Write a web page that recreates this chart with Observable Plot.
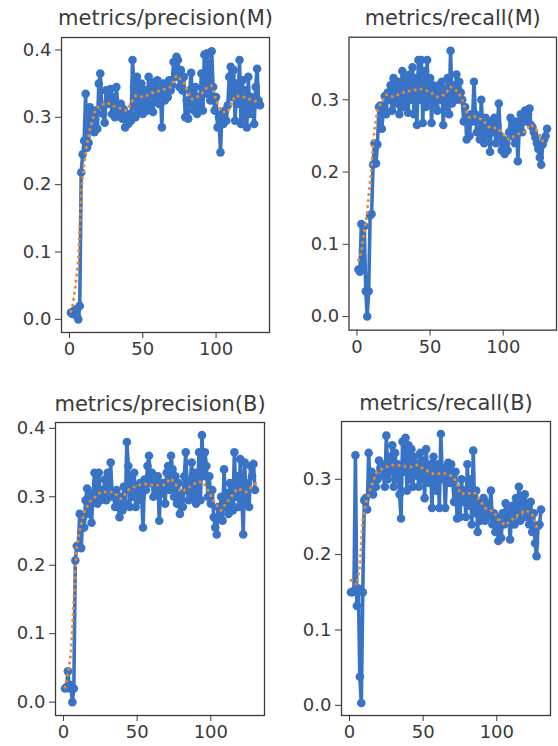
<!DOCTYPE html>
<html>
<head>
<meta charset="utf-8">
<script src="https://cdn.jsdelivr.net/npm/d3@7"></script>
<script src="https://cdn.jsdelivr.net/npm/@observablehq/plot@0.6"></script>
<style>
  html, body { margin: 0; padding: 0; background: #fff; overflow: hidden; }
  #wrap { position: relative; width: 558px; height: 746px; overflow: hidden; }
  #wrap > div { position: absolute; }
  svg { overflow: visible; }
</style>
</head>
<body>
<div id="wrap"></div>
<script>
// ---------- DATA ----------
const titles = ["metrics/precision(M)", "metrics/recall(M)", "metrics/precision(B)", "metrics/recall(B)"];
const xTicks = [0, 50, 100];
const yTicksPrec = [0, 0.1, 0.2, 0.3, 0.4];
const yTicksRec = [0, 0.1, 0.2, 0.3];

// raw series, epochs 1..130
const precisionM = [
  0.010,0.008,0.012,0.015,0.005,0.000,0.020,0.218,0.245,0.265,
  0.335,0.255,0.262,0.315,0.300,0.285,0.278,0.310,0.283,0.350,
  0.365,0.318,0.305,0.292,0.340,0.320,0.335,0.342,0.305,0.330,
  0.300,0.345,0.318,0.305,0.320,0.298,0.312,0.285,0.300,0.290,
  0.305,0.295,0.385,0.345,0.300,0.360,0.330,0.310,0.350,0.305,
  0.315,0.340,0.310,0.360,0.320,0.345,0.308,0.352,0.330,0.355,
  0.320,0.340,0.285,0.350,0.325,0.345,0.330,0.355,0.340,0.348,
  0.382,0.360,0.390,0.385,0.345,0.370,0.340,0.360,0.300,0.325,
  0.298,0.340,0.366,0.320,0.310,0.345,0.305,0.330,0.318,0.365,
  0.310,0.393,0.335,0.395,0.360,0.325,0.398,0.345,0.310,0.330,
  0.285,0.300,0.248,0.305,0.290,0.310,0.295,0.318,0.360,0.375,
  0.330,0.370,0.295,0.350,0.320,0.385,0.290,0.355,0.300,0.340,
  0.285,0.360,0.305,0.330,0.315,0.290,0.345,0.372,0.325,0.318
];
const recallM = [
  0.065,0.062,0.128,0.070,0.125,0.035,0.000,0.035,0.140,0.142,
  0.210,0.240,0.212,0.238,0.290,0.292,0.260,0.285,0.305,0.280,
  0.310,0.300,0.320,0.285,0.330,0.320,0.295,0.325,0.280,0.310,
  0.340,0.290,0.320,0.330,0.282,0.335,0.300,0.345,0.280,0.330,
  0.265,0.355,0.300,0.355,0.268,0.340,0.290,0.355,0.300,0.330,
  0.268,0.320,0.295,0.310,0.285,0.320,0.300,0.325,0.265,0.315,
  0.290,0.330,0.280,0.368,0.295,0.320,0.305,0.335,0.300,0.325,
  0.310,0.300,0.270,0.290,0.245,0.275,0.250,0.280,0.270,0.325,
  0.280,0.255,0.275,0.245,0.300,0.260,0.240,0.275,0.250,0.270,
  0.228,0.265,0.255,0.275,0.240,0.265,0.295,0.250,0.230,0.245,
  0.225,0.240,0.230,0.255,0.275,0.250,0.265,0.240,0.270,0.215,
  0.260,0.280,0.255,0.275,0.285,0.270,0.280,0.288,0.265,0.262,
  0.255,0.248,0.240,0.232,0.220,0.210,0.238,0.245,0.250,0.260
];
const precisionB = [
  0.020,0.022,0.045,0.020,0.025,0.000,0.020,0.207,0.228,0.228,
  0.275,0.225,0.268,0.255,0.295,0.312,0.275,0.305,0.262,0.300,
  0.335,0.320,0.290,0.335,0.295,0.310,0.300,0.325,0.295,0.335,
  0.310,0.350,0.300,0.305,0.285,0.310,0.290,0.270,0.300,0.280,
  0.315,0.290,0.380,0.345,0.285,0.330,0.300,0.335,0.285,0.310,
  0.295,0.320,0.300,0.255,0.325,0.310,0.345,0.360,0.320,0.335,
  0.300,0.320,0.310,0.330,0.265,0.320,0.305,0.320,0.290,0.335,
  0.345,0.310,0.360,0.340,0.300,0.330,0.290,0.320,0.275,0.305,
  0.285,0.330,0.365,0.310,0.295,0.320,0.350,0.300,0.335,0.290,
  0.310,0.365,0.295,0.390,0.330,0.365,0.345,0.300,0.330,0.290,
  0.310,0.270,0.255,0.245,0.285,0.270,0.300,0.265,0.340,0.285,
  0.305,0.275,0.320,0.290,0.280,0.365,0.300,0.330,0.285,0.355,
  0.305,0.245,0.350,0.290,0.320,0.285,0.345,0.330,0.348,0.310
];
const recallB = [
  0.150,0.150,0.152,0.332,0.132,0.155,0.038,0.003,0.150,0.272,
  0.275,0.260,0.335,0.285,0.310,0.280,0.305,0.290,0.300,0.325,
  0.315,0.320,0.305,0.290,0.358,0.300,0.330,0.310,0.345,0.290,
  0.335,0.300,0.320,0.280,0.248,0.350,0.310,0.355,0.285,0.345,
  0.300,0.340,0.290,0.330,0.305,0.320,0.290,0.335,0.300,0.325,
  0.275,0.340,0.310,0.295,0.320,0.262,0.330,0.300,0.285,0.320,
  0.262,0.360,0.300,0.315,0.262,0.310,0.322,0.295,0.320,0.300,
  0.270,0.310,0.248,0.285,0.250,0.300,0.270,0.285,0.250,0.320,
  0.265,0.300,0.240,0.338,0.255,0.285,0.230,0.270,0.245,0.265,
  0.275,0.245,0.268,0.250,0.260,0.285,0.240,0.255,0.230,0.250,
  0.218,0.240,0.222,0.255,0.240,0.268,0.245,0.258,0.220,0.250,
  0.265,0.240,0.275,0.255,0.290,0.245,0.275,0.260,0.280,0.250,
  0.265,0.240,0.270,0.230,0.255,0.215,0.198,0.238,0.240,0.260
];

// smoothed series (orange dotted), read at selected epochs
const precisionMSmoothEpoch = [1,2,4,6,7,8,10,12,14,18,25,32,39,45,51,57,63,69,73,78,83,89,94,97,100,104,108,113,119,125,130];
const precisionMSmooth      = [0.012,0.018,0.048,0.088,0.137,0.190,0.231,0.261,0.283,0.313,0.322,0.315,0.310,0.332,0.330,0.337,0.340,0.345,0.362,0.352,0.327,0.332,0.345,0.347,0.325,0.308,0.308,0.332,0.330,0.325,0.322];
const recallMSmoothEpoch = [1,3,5,7,8,9,10,11,12,14,17,20,25,30,37,44,50,55,60,64,69,72,74,77,81,86,91,96,100,104,109,114,119,124,127,130];
const recallMSmooth      = [0.078,0.089,0.117,0.144,0.167,0.185,0.210,0.238,0.259,0.286,0.298,0.307,0.304,0.309,0.313,0.315,0.311,0.304,0.307,0.318,0.311,0.300,0.287,0.275,0.277,0.272,0.261,0.261,0.252,0.245,0.252,0.255,0.266,0.255,0.243,0.245];
const precisionBSmoothEpoch = [1,3,5,6,7,8,9,11,14,18,25,34,39,45,54,61,68,73,80,84,91,95,100,103,107,112,118,124,130];
const precisionBSmooth      = [0.022,0.041,0.070,0.110,0.149,0.188,0.227,0.251,0.278,0.293,0.307,0.307,0.297,0.312,0.319,0.317,0.317,0.327,0.307,0.312,0.322,0.321,0.302,0.290,0.280,0.295,0.312,0.307,0.319];
const recallBSmoothEpoch = [1,3,5,7,8,9,11,14,18,23,28,35,41,46,52,57,64,70,73,75,80,85,89,92,98,101,106,110,116,120,125,127,130];
const recallBSmooth      = [0.166,0.163,0.160,0.184,0.219,0.246,0.268,0.286,0.308,0.315,0.319,0.318,0.316,0.319,0.312,0.307,0.308,0.304,0.295,0.281,0.281,0.282,0.271,0.262,0.257,0.246,0.239,0.246,0.255,0.259,0.251,0.237,0.240];

// ---------- RENDER ----------
const BLUE = "#3873c6";
const ORANGE = "#f08a24";
const INK = "#3a3a3a";

function rows(ys, xs) {
  return ys.map((v, i) => ({ epoch: xs ? xs[i] : i + 1, value: v }));
}

function panel(opts) {
  const raw = rows(opts.values);
  const smooth = rows(opts.smooth, opts.smoothEpoch);
  const n = raw.length;
  const pad = (n - 1) * 0.05;
  const chart = Plot.plot({
    width: opts.width,
    height: opts.height,
    marginLeft: opts.ml, marginRight: opts.mr, marginTop: opts.mt, marginBottom: opts.mb,
    style: { fontFamily: "DejaVu Sans", fontSize: "18px", color: INK, background: "transparent" },
    x: { domain: [1 - pad, n + pad] },
    y: { domain: opts.yDomain },
    marks: [
      Plot.line(raw, { x: "epoch", y: "value", stroke: BLUE, strokeWidth: 3.6 }),
      Plot.dot(raw, { x: "epoch", y: "value", r: 4.3, fill: BLUE, stroke: "none" }),
      Plot.line(smooth, { x: "epoch", y: "value", stroke: ORANGE, strokeWidth: 3, strokeDasharray: "0.1,6", strokeLinecap: "round" }),
      Plot.frame({ stroke: "#3a3a3a", strokeWidth: 1.3 }),
      Plot.axisX({ ticks: xTicks, tickSize: 6, tickPadding: 4, fontSize: 18, fill: INK, stroke: "#3a3a3a", label: null }),
      Plot.axisY({ ticks: opts.yTicks, tickFormat: d3.format(".1f"), tickSize: 6, tickPadding: 4, fontSize: 18, fill: INK, stroke: "#3a3a3a", label: null }),
      Plot.text([opts.title], { text: d => d, frameAnchor: "top", lineAnchor: "middle", dy: opts.titleDy, fontSize: 21, fill: INK })
    ]
  });
  const holder = document.createElement("div");
  holder.style.left = opts.left + "px";
  holder.style.top = opts.top + "px";
  holder.appendChild(chart);
  document.getElementById("wrap").appendChild(holder);
}

panel({ title: titles[0], values: precisionM, smooth: precisionMSmooth, smoothEpoch: precisionMSmoothEpoch,
  left: 0, top: 0, width: 279, height: 373, ml: 61, mr: 10, mt: 37, mb: 41,
  yDomain: [-0.0195, 0.4185], yTicks: yTicksPrec, titleDy: -19 });
panel({ title: titles[1], values: recallM, smooth: recallMSmooth, smoothEpoch: recallMSmoothEpoch,
  left: 279, top: 0, width: 281, height: 373, ml: 70, mr: 2, mt: 37, mb: 41,
  yDomain: [-0.0188, 0.3866], yTicks: yTicksRec, titleDy: -19 });
panel({ title: titles[2], values: precisionB, smooth: precisionBSmooth, smoothEpoch: precisionBSmoothEpoch,
  left: 0, top: 373, width: 279, height: 373, ml: 55, mr: 15, mt: 49, mb: 31,
  yDomain: [-0.0195, 0.4085], yTicks: yTicksPrec, titleDy: -18 });
panel({ title: titles[3], values: recallB, smooth: recallBSmooth, smoothEpoch: recallBSmoothEpoch,
  left: 279, top: 373, width: 279, height: 373, ml: 62, mr: 8, mt: 48, mb: 31,
  yDomain: [-0.0135, 0.3767], yTicks: yTicksRec, titleDy: -18 });
</script>
</body>
</html>
